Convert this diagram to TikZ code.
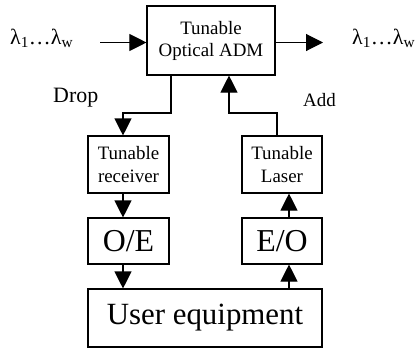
\documentclass[tikz,border=0pt]{standalone}
\usepackage{fontspec}
\setmainfont{Liberation Serif}
\usetikzlibrary{arrows.meta}

\tikzset{
  box/.style={draw, line width=1.1bp, align=center, inner sep=0pt},
  arr/.style={line width=1.1bp, -{Triangle[length=17bp,width=17bp]}},
  lbl/.style={inner sep=0pt, anchor=base west},
}
\newcommand{\fsz}[2]{\fontsize{#1}{#2}\selectfont}

\begin{document}
\begin{tikzpicture}[x=1bp,y=-1bp]
    \useasboundingbox (0,0) rectangle (418,352);
    % boxes
    \node[box, minimum width=128bp, minimum height=69bp, font=\fsz{19}{22}] (adm) at (211,40.5) {Tunable\\Optical ADM};
    \node[box, minimum width=81bp, minimum height=57bp, font=\fsz{19}{24}] (rx) at (128.5,164.5) {Tunable\\receiver};
    \node[box, minimum width=80bp, minimum height=57bp, font=\fsz{19}{24}] (laser) at (282,164.5) {Tunable\\Laser};
    \node[box, minimum width=81bp, minimum height=46bp, font=\fsz{32}{32}] (oe) at (128.5,241) {O/E};
    \node[box, minimum width=80bp, minimum height=46bp, font=\fsz{32}{32}] (eo) at (282,241) {E/O};
    \node[box, minimum width=234bp, minimum height=58bp, font=\fsz{31}{31}] (user) at (205,318) {User equipment};
    % labels
    \node[lbl, font=\fsz{22}{22}] (lin) at (10,44) {λ\textsubscript{1}…λ\textsubscript{w}};
    \node[lbl, font=\fsz{22}{22}] (lout) at (352,44) {λ\textsubscript{1}…λ\textsubscript{w}};
    \node[lbl, font=\fsz{22}{22}] (drop) at (53,102) {Drop};
    \node[lbl, font=\fsz{19}{19}] (add) at (303,106) {Add};
    % points
    \coordinate (inA) at (100,42.5);
    \coordinate (outB) at (323,42.5);
    \coordinate (dropturn) at (171,113);
    \coordinate (addturn) at (229,113);
    % line
    \draw[arr] (inA) -- (inA -| adm.west);
    \draw[arr] (outB -| adm.east) -- (outB);
    \draw[arr] (dropturn |- adm.south) -- (dropturn) -| ([xshift=-5.5bp]rx.north);
    \draw[arr] ([xshift=-5bp]laser.north) |- (addturn) -- (addturn |- adm.south);
    \draw[arr] ([xshift=-5.5bp]rx.south) -- ([xshift=-5.5bp]oe.north);
    \draw[arr] ([xshift=-5.5bp]oe.south) -- ([xshift=-5.5bp]oe.south |- user.north);
    \draw[arr] ([xshift=7bp]eo.south |- user.north) -- ([xshift=7bp]eo.south);
    \draw[arr] ([xshift=7bp]eo.north) -- ([xshift=7bp]laser.south);
\end{tikzpicture}
\end{document}
